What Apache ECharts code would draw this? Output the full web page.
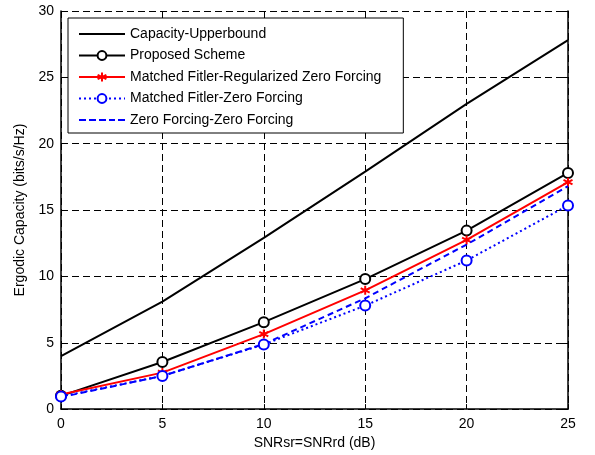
<!DOCTYPE html>
<html>
<head>
<meta charset="utf-8">
<script src="https://cdn.jsdelivr.net/npm/echarts@6/dist/echarts.min.js"></script>
<style>
  html, body { margin: 0; padding: 0; background: #fff; }
  #chart { width: 595px; height: 455px; }
</style>
</head>
<body>
<div id="chart"></div>
<script>
// data
const snr = [0, 5, 10, 15, 20, 25];
const upperBound = [4.0, 8.1, 12.9, 17.9, 23.0, 27.8];
const proposed = [1.0, 3.55, 6.55, 9.8, 13.45, 17.8];
const mfRzf = [1.1, 2.75, 5.65, 8.95, 12.75, 17.1];
const mfZf = [0.95, 2.5, 4.87, 7.8, 11.2, 15.35];
const zfZf = [0.9, 2.5, 4.9, 8.35, 12.4, 16.8];
const xTicks = { min: 0, max: 25, step: 5 };
const yTicks = { min: 0, max: 30, step: 5 };
const legendNames = [
  "Capacity-Upperbound",
  "Proposed Scheme",
  "Matched Fitler-Regularized Zero Forcing",
  "Matched Fitler-Zero Forcing",
  "Zero Forcing-Zero Forcing"
];

const font = "Liberation Sans, Arial, sans-serif";
const fs = 14;
const asterisk = "path://M0,-5L0,5M-4.33,-2.5L4.33,2.5M-4.33,2.5L4.33,-2.5";
// legend samples for the series without markers
const solidIcon = "path://M0,0H46V2H0Z";
const dashIcon = "path://M0,0h7v2h-7zM10,0h7v2h-7zM20,0h7v2h-7zM30,0h6v2h-6zM39,0h7v2h-7z";

function pts(ys) {
  return snr.map((x, i) => [x, ys[i]]);
}

const myChart = echarts.init(document.getElementById("chart"), null, { renderer: "canvas" });

const gridLine = { show: true, lineStyle: { color: "#000", type: [7, 4], width: 1 } };

const option = {
  animation: false,
  backgroundColor: "#fff",
  textStyle: { fontFamily: font },
  grid: { left: 61, right: 27, top: 11, bottom: 44 },
  legend: {
    orient: "vertical",
    left: 68,
    top: 18,
    padding: [9, 22, 6, 10],
    itemGap: 7.5,
    itemWidth: 46,
    itemHeight: 11,
    backgroundColor: "#fff",
    borderColor: "#000",
    borderWidth: 1,
    textStyle: { fontFamily: font, fontSize: fs, lineHeight: 14, color: "#000" },
    data: [
      { name: legendNames[0], icon: solidIcon, itemStyle: { color: "#000", borderWidth: 0 } },
      { name: legendNames[1] },
      { name: legendNames[2] },
      { name: legendNames[3] },
      { name: legendNames[4], icon: dashIcon, itemStyle: { color: "#0000ff", borderWidth: 0 } }
    ]
  },
  xAxis: {
    type: "value",
    min: xTicks.min,
    max: xTicks.max,
    interval: xTicks.step,
    name: "SNRsr=SNRrd (dB)",
    nameLocation: "middle",
    nameGap: 26,
    nameTextStyle: { fontFamily: font, fontSize: fs, color: "#000" },
    axisLine: { show: true, lineStyle: { color: "#000", width: 1.5 } },
    axisTick: { show: true, inside: true, length: 5, lineStyle: { color: "#000" } },
    axisLabel: { fontFamily: font, fontSize: fs, color: "#000", margin: 8 },
    splitLine: gridLine
  },
  yAxis: [
    {
      type: "value",
      min: yTicks.min,
      max: yTicks.max,
      interval: yTicks.step,
      name: "Ergodic Capacity (bits/s/Hz)",
      nameLocation: "middle",
      nameGap: 30,
      nameTextStyle: { fontFamily: font, fontSize: fs, color: "#000" },
      axisLine: { show: true, lineStyle: { color: "#000", width: 1.5 } },
      axisTick: { show: true, inside: true, length: 5, lineStyle: { color: "#000" } },
      axisLabel: { fontFamily: font, fontSize: fs, color: "#000", margin: 7 },
      splitLine: gridLine
    },
    {
      type: "value",
      position: "right",
      min: yTicks.min,
      max: yTicks.max,
      interval: yTicks.step,
      axisLine: { show: true, lineStyle: { color: "#000", width: 1.5 } },
      axisTick: { show: true, inside: true, length: 5, lineStyle: { color: "#000" } },
      axisLabel: { show: false },
      splitLine: { show: false }
    }
  ],
  series: [
    {
      name: legendNames[0],
      type: "line",
      data: pts(upperBound),
      symbol: "none",
      lineStyle: { color: "#000", width: 2 },
      itemStyle: { color: "#000" },
      z: 3
    },
    {
      name: legendNames[1],
      type: "line",
      data: pts(proposed),
      symbol: "emptyCircle",
      symbolSize: 10,
      lineStyle: { color: "#000", width: 2 },
      itemStyle: { color: "#000", borderColor: "#000", borderWidth: 1.8 },
      z: 4
    },
    {
      name: legendNames[2],
      type: "line",
      data: pts(mfRzf),
      symbol: asterisk,
      symbolSize: 9,
      lineStyle: { color: "#ff0000", width: 2 },
      itemStyle: { color: "#ff0000", borderColor: "#ff0000", borderWidth: 2 },
      z: 5
    },
    {
      name: legendNames[3],
      type: "line",
      data: pts(mfZf),
      symbol: "emptyCircle",
      symbolSize: 10,
      lineStyle: { color: "#0000ff", width: 2, type: [2, 3] },
      itemStyle: { color: "#0000ff", borderColor: "#0000ff", borderWidth: 2.2 },
      z: 6
    },
    {
      name: legendNames[4],
      type: "line",
      data: pts(zfZf),
      symbol: "none",
      lineStyle: { color: "#0000ff", width: 2, type: [6, 4] },
      itemStyle: { color: "#0000ff" },
      z: 6
    }
  ]
};

option && myChart.setOption(option);
</script>
</body>
</html>
